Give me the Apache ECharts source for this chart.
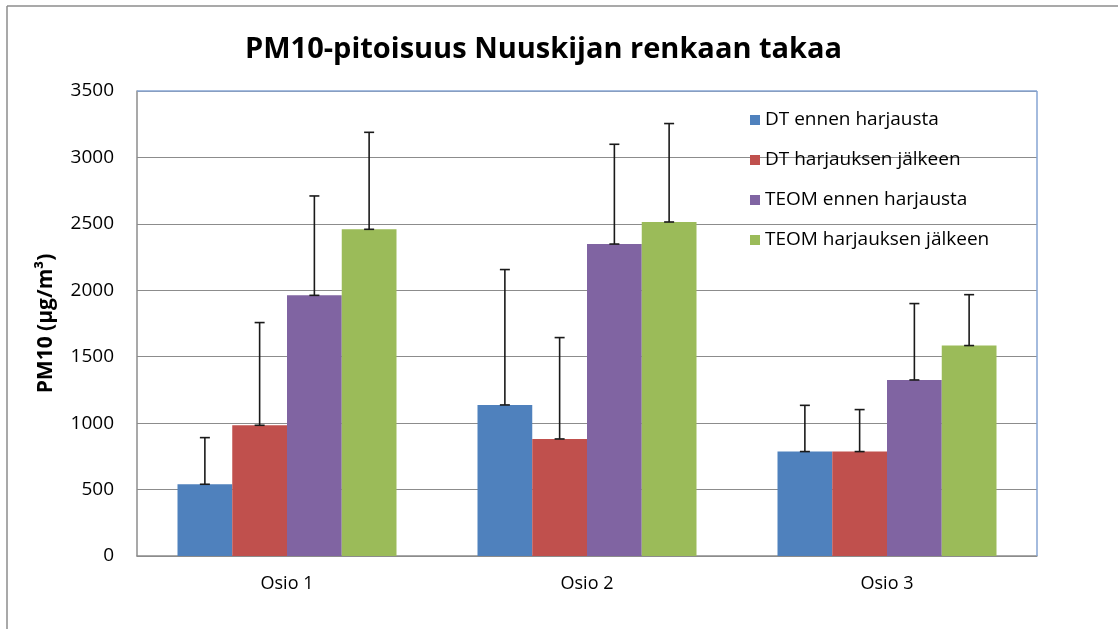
<!DOCTYPE html>
<html>
<head>
<meta charset="utf-8">
<script src="https://cdn.jsdelivr.net/npm/echarts@6/dist/echarts.min.js"></script>
<style>
  html, body { margin: 0; padding: 0; background: #fff; }
  #main { width: 1118px; height: 629px; }
</style>
</head>
<body>
<div id="main"></div>
<script>
// kategoriat ja arvot (luettu kuvasta)
const categories = ['Osio 1', 'Osio 2', 'Osio 3']
const seriesNames = ['DT ennen harjausta', 'DT harjauksen jälkeen', 'TEOM ennen harjausta', 'TEOM harjauksen jälkeen']
const dtBefore = [540, 1137, 786]
const dtAfter = [984, 881, 786]
const teomBefore = [1962, 2348, 1325]
const teomAfter = [2459, 2514, 1584]
// virhepalkkien yläpäät
const dtBeforeErr = [891, 2156, 1134]
const dtAfterErr = [1757, 1644, 1102]
const teomBeforeErr = [2710, 3099, 1900]
const teomAfterErr = [3189, 3255, 1967]
const yTicks = [0, 500, 1000, 1500, 2000, 2500, 3000, 3500]

const colors = ['#4F81BD', '#C0504D', '#8064A2', '#9BBB59']
const values = [dtBefore, dtAfter, teomBefore, teomAfter]
const errors = [dtBeforeErr, dtAfterErr, teomBeforeErr, teomAfterErr]
const catGap = 0.27
const font = 'Open Sans'

const errRender = (idx) => (params, api) => {
  const cat = api.value(0)
  const band = api.size([1, 0])[0]
  const barW = band * (1 - catGap) / 4
  const cx = api.coord([cat, 0])[0] - 2 * barW + (idx + 0.5) * barW
  const yTop = api.coord([cat, api.value(2)])[1]
  const yBot = api.coord([cat, api.value(1)])[1]
  const st = { stroke: '#1a1a1a', lineWidth: 1.6 }
  return {
    type: 'group',
    children: [
      { type: 'line', shape: { x1: cx, y1: yBot, x2: cx, y2: yTop }, style: st },
      { type: 'line', shape: { x1: cx - 5, y1: yTop, x2: cx + 5, y2: yTop }, style: st },
      { type: 'line', shape: { x1: cx - 5, y1: yBot, x2: cx + 5, y2: yBot }, style: st }
    ]
  }
}

const series = []
values.forEach((v, i) => {
  series.push({
    name: seriesNames[i],
    type: 'bar',
    data: v,
    barGap: '0%',
    barCategoryGap: (catGap * 100) + '%',
    itemStyle: { color: colors[i] },
    emphasis: { disabled: true }
  })
})
errors.forEach((e, i) => {
  series.push({
    type: 'custom',
    renderItem: errRender(i),
    data: e.map((hi, j) => [j, values[i][j], hi]),
    z: 5,
    silent: true
  })
})

const chart = echarts.init(document.getElementById('main'))
chart.setOption({
  animation: false,
  backgroundColor: '#fff',
  title: {
    text: 'PM10-pitoisuus Nuuskijan renkaan takaa',
    left: 240,
    top: 30,
    textStyle: { fontFamily: font, fontSize: 29, fontWeight: 'bold', color: '#000' }
  },
  legend: {
    orient: 'vertical',
    left: 745,
    top: 105,
    itemWidth: 10,
    itemHeight: 10,
    itemGap: 20,
    icon: 'rect',
    data: seriesNames,
    textStyle: { fontFamily: font, fontSize: 19, color: '#000', lineHeight: 20 }
  },
  grid: { left: 137, top: 91, right: 81, bottom: 73 },
  xAxis: {
    type: 'category',
    data: categories,
    axisTick: { show: false },
    axisLine: { lineStyle: { color: '#8c8c8c', width: 1.5 } },
    axisLabel: { fontFamily: font, fontSize: 18, color: '#000', margin: 19 }
  },
  yAxis: {
    type: 'value',
    min: yTicks[0],
    max: yTicks[yTicks.length - 1],
    interval: 500,
    name: 'PM10 (µg/m³)',
    nameLocation: 'middle',
    nameGap: 80,
    nameTextStyle: { fontFamily: font, fontSize: 21, fontWeight: 'bold', color: '#000' },
    axisLine: { show: true, lineStyle: { color: '#8c8c8c', width: 1.5 } },
    axisTick: { show: false },
    axisLabel: { fontFamily: font, fontSize: 19, color: '#000', margin: 23, formatter: (v) => String(v) },
    splitLine: { lineStyle: { color: '#8c8c8c', width: 1.2 } }
  },
  graphic: [
    { type: 'line', z: 100, shape: { x1: 7, y1: 6, x2: 1118, y2: 6 }, style: { stroke: '#8c8c8c', lineWidth: 1.5 } },
    { type: 'line', z: 100, shape: { x1: 7, y1: 6, x2: 7, y2: 629 }, style: { stroke: '#8c8c8c', lineWidth: 1.5 } },
    { type: 'line', z: 100, shape: { x1: 137, y1: 91, x2: 1037, y2: 91 }, style: { stroke: '#86A5D3', lineWidth: 1.5 } },
    { type: 'line', z: 100, shape: { x1: 1037, y1: 91, x2: 1037, y2: 556 }, style: { stroke: '#86A5D3', lineWidth: 1.5 } }
  ],
  series: series
})
</script>
</body>
</html>
